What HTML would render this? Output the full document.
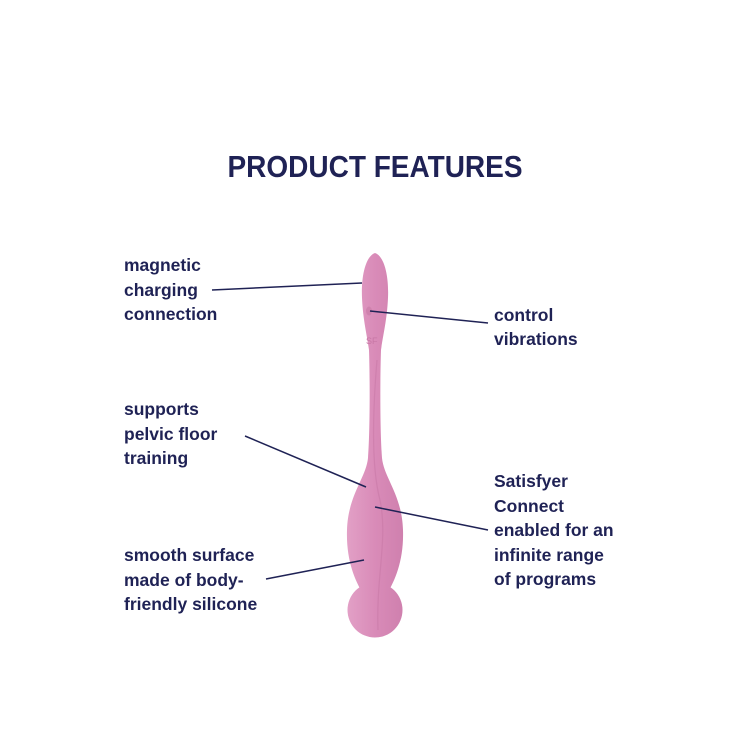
<!DOCTYPE html>
<html><head><meta charset="utf-8"><style>
html,body{margin:0;padding:0;background:#fff;}
svg{display:block;}
text{font-family:"Liberation Sans",sans-serif;fill:#1f2255;}
</style></head><body>
<svg width="750" height="750" viewBox="0 0 750 750" xmlns="http://www.w3.org/2000/svg">
<defs>
<linearGradient id="g" x1="0" x2="1" y1="0" y2="0">
<stop offset="0" stop-color="#e2a0c6"/>
<stop offset="0.5" stop-color="#d98bb8"/>
<stop offset="1" stop-color="#cf80ae"/>
</linearGradient>
</defs>
<text x="375" y="177" text-anchor="middle" font-size="31" font-weight="bold" textLength="295" lengthAdjust="spacingAndGlyphs">PRODUCT FEATURES</text>

<!-- product -->
<circle cx="375" cy="610" r="27.5" fill="url(#g)"/>
<path fill="url(#g)" d="M375 253 C384 256 389 275 388 298 C387 320 383 335 381 350 C380 380 380 430 382 458 C384 478 402 495 403 530 C404 560 395 580 388 592 L362 592 C355 580 346 560 347 530 C348 495 366 478 368 458 C370 430 370 380 369 350 C367 335 363 320 362 298 C361 275 366 256 375 253 Z"/>
<path d="M377 360 C372 420 372 470 380 500 C388 540 376 575 378 630" stroke="#c575a3" stroke-width="1.2" fill="none" opacity="0.5"/>
<ellipse cx="369" cy="311" rx="3" ry="4.5" fill="#cf82ae"/>
<text x="366" y="344" font-size="9" style="fill:#c777a5">SF</text>

<!-- connectors -->
<g stroke="#1f2255" stroke-width="1.5" fill="none">
<line x1="212" y1="290" x2="362" y2="283"/>
<line x1="370" y1="311" x2="488" y2="323"/>
<line x1="245" y1="436" x2="366" y2="487"/>
<line x1="375" y1="507" x2="488" y2="530"/>
<line x1="266" y1="579" x2="364" y2="560"/>
</g>

<g font-size="17.5" font-weight="bold">
<text x="124" y="271">magnetic</text>
<text x="124" y="296">charging</text>
<text x="124" y="320">connection</text>
<text x="124" y="415">supports</text>
<text x="124" y="440">pelvic floor</text>
<text x="124" y="464">training</text>
<text x="124" y="561">smooth surface</text>
<text x="124" y="586">made of body-</text>
<text x="124" y="610">friendly silicone</text>
<text x="494" y="321">control</text>
<text x="494" y="345">vibrations</text>
<text x="494" y="487">Satisfyer</text>
<text x="494" y="512">Connect</text>
<text x="494" y="536">enabled for an</text>
<text x="494" y="561">infinite range</text>
<text x="494" y="585">of programs</text>
</g>
</svg>
</body></html>
